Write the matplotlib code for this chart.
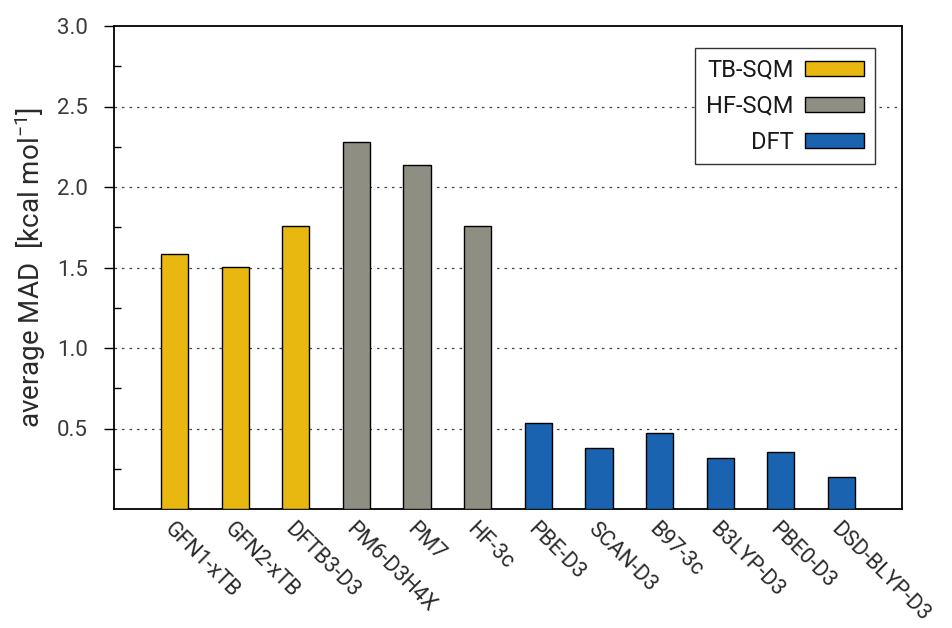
import matplotlib
matplotlib.use("Agg")
import matplotlib.pyplot as plt
from matplotlib.patches import Patch

plt.rcParams['font.family'] = ['Roboto', 'DejaVu Sans']
plt.rcParams['mathtext.fontset'] = 'custom'
plt.rcParams['mathtext.rm'] = 'Roboto'

methods = ["GFN1-xTB", "GFN2-xTB", "DFTB3-D3", "PM6-D3H4X", "PM7", "HF-3c",
           "PBE-D3", "SCAN-D3", "B97-3c", "B3LYP-D3", "PBE0-D3", "DSD-BLYP-D3"]
mad = [1.584, 1.503, 1.758, 2.280, 2.137, 1.758,
       0.534, 0.379, 0.472, 0.317, 0.354, 0.199]
groups = ["TB-SQM"] * 3 + ["HF-SQM"] * 3 + ["DFT"] * 6
group_names = ["TB-SQM", "HF-SQM", "DFT"]
group_colors = {"TB-SQM": "#E8B810", "HF-SQM": "#8E8E82", "DFT": "#1A63B0"}
yticks = [0.5, 1.0, 1.5, 2.0, 2.5, 3.0]

fig = plt.figure(figsize=(9.53, 6.28), dpi=100)
ax = fig.add_axes([114/953, 1-509/628, (902-114)/953, (509-26)/628])

x = list(range(1, len(methods) + 1))
ax.bar(x, mad, width=0.45, color=[group_colors[g] for g in groups],
       edgecolor="black", linewidth=1.0, zorder=3)

ax.set_xlim(0, len(methods) + 1)
ax.set_ylim(0, 3.0)
ax.set_yticks(yticks)
ax.set_yticklabels([f"{v:.1f}" for v in yticks], fontsize=16, color="#3a3a3a")
ax.set_yticks([0.25, 0.75, 1.25, 1.75, 2.25, 2.75], minor=True)
ax.tick_params(axis="y", which="major", direction="out", length=7, width=1, pad=12)
ax.tick_params(axis="y", which="minor", direction="in", length=5, width=1)
ax.set_xticks(x)
ax.set_xticklabels(methods, rotation=-45, ha="left", rotation_mode="anchor",
                   fontsize=15.5, color="#2a2a2a")
ax.tick_params(axis="x", length=0, pad=7)
for v in yticks[:-1]:
    ax.axhline(v, color="#444444", linestyle=(0, (2, 4)), linewidth=0.9, zorder=1)
for s in ax.spines.values():
    s.set_linewidth(1.3)

ax.set_ylabel("average MAD  [kcal mol$^{\\mathregular{-1}}$]", fontsize=20,
              color="#2a2a2a", labelpad=6)

handles = [Patch(facecolor=group_colors[g], edgecolor="black", linewidth=1.0) for g in group_names]
leg = ax.legend(handles, group_names, loc="upper right",
                bbox_to_anchor=((875-114)/788, (509-48)/483), borderaxespad=0,
                markerfirst=False, fontsize=17, handlelength=2.5, handleheight=0.6,
                labelspacing=0.55, fancybox=False, framealpha=1, edgecolor="#333333",
                borderpad=0.45, handletextpad=0.5)
for t in leg.get_texts():
    t.set_color("#1a1a1a")
leg.get_frame().set_linewidth(1.0)

fig.savefig("out.png", dpi=100)
